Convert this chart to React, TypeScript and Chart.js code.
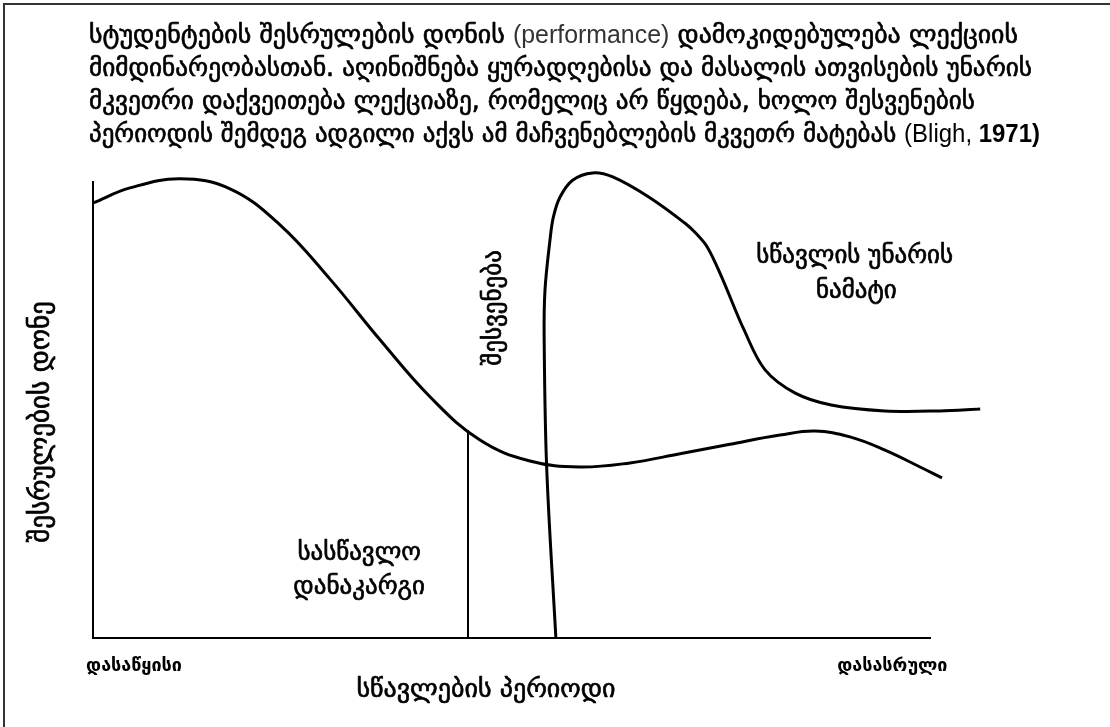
import React, { useEffect, useRef } from "react";
import { Chart, registerables } from "chart.js";

Chart.register(...registerables);

const GEO = '"DejaVu Sans", sans-serif';
const LAT = '"Liberation Sans", Arial, sans-serif';

// ---- text content ----
const titleLine1 = ["სტუდენტების შესრულების დონის ", "(performance)", " დამოკიდებულება ლექციის"];
const titleLine2 = ["მიმდინარეობასთან. აღინიშნება ყურადღებისა და მასალის ათვისების უნარის"];
const titleLine3 = ["მკვეთრი დაქვეითება ლექციაზე, რომელიც არ წყდება, ხოლო შესვენების"];
const titleLine4 = ["პერიოდის შემდეგ ადგილი აქვს ამ მაჩვენებლების მკვეთრ მატებას ", "(Bligh, ", "1971)"];

const xTickLabels = ["დასაწყისი", "დასასრული"];
const xTickValues = [4.9, 95.5];
const xAxisTitle = "სწავლების პერიოდი";
const yAxisTitle = "შესრულების დონე";

const gainLabel = ["სწავლის უნარის", "ნამატი"];
const lossLabel = ["სასწავლო", "დანაკარგი"];
const breakLabel = "შესვენება";

// ---- curve values (x: period 0..100, y: performance 0..100) ----
const attentionX = [0, 4.42, 10.39, 16.37, 22.34, 28.32, 34.29, 40.26, 46.24, 52.21, 58.18, 64.16, 70.13, 76.1, 82.08, 86.26, 90.44, 94.62, 98.81, 101.43];
const attentionY = [95.4, 98.7, 100.7, 98.5, 90.6, 78.7, 65.4, 52.9, 43.4, 38.8, 37.5, 38.4, 40.4, 42.5, 44.5, 45.4, 44.1, 41.2, 37.5, 35.1];

const recoveryX = [55.3, 54.2, 53.9, 54.0, 54.6, 55.0, 55.8, 57.3, 59.7, 62.1, 66.4, 70.7, 72.0, 73.4, 75.1, 77.8, 80.3, 83.9, 88.2, 94.6, 101.2, 106.0];
const recoveryY = [0, 37.5, 66.0, 76.3, 87.3, 92.3, 96.7, 100.4, 102.0, 101.1, 96.7, 91.0, 88.8, 85.7, 79.2, 67.5, 58.8, 53.7, 51.1, 49.8, 49.8, 50.2];

const lossLineX = [44.8, 44.8];
const lossLineY = [0, 45.6];

const toPoints = (xs: number[], ys: number[]) => xs.map((x, i) => ({ x, y: ys[i] }));

const textPlugin = {
  id: "diagramText",
  afterDraw(chart: any) {
    const ctx: CanvasRenderingContext2D = chart.ctx;
    const xs = chart.scales.x;
    const ys = chart.scales.y;
    ctx.save();

    // frame (top & left)
    ctx.strokeStyle = "#333";
    ctx.lineWidth = 2;
    ctx.beginPath();
    ctx.moveTo(4, 727);
    ctx.lineTo(4, 4);
    ctx.lineTo(1110, 4);
    ctx.stroke();

    ctx.fillStyle = "#000";
    ctx.strokeStyle = "#000";
    ctx.lineWidth = 0.7;
    ctx.lineJoin = "round";
    ctx.textBaseline = "middle";

    const heavy = (t: string, x: number, y: number) => {
      ctx.fillText(t, x, y);
      ctx.strokeText(t, x, y);
    };

    const geo = (s: number) => `${s}px ${GEO}`;
    const drawLine = (segs: { t: string; font: string; color: string; bold?: boolean }[], x0: number, yc: number, target: number) => {
      let total = 0;
      const ws = segs.map((s) => {
        ctx.font = s.font;
        const w = ctx.measureText(s.t).width;
        total += w;
        return w;
      });
      const k = target / total;
      ctx.save();
      ctx.translate(x0, yc);
      ctx.scale(k, 1);
      ctx.textAlign = "left";
      let cx = 0;
      segs.forEach((s, i) => {
        ctx.font = s.font;
        ctx.fillStyle = s.color;
        ctx.strokeStyle = s.color;
        if (s.bold) heavy(s.t, cx, 0);
        else ctx.fillText(s.t, cx, 0);
        cx += ws[i];
      });
      ctx.restore();
    };

    const tf = geo(26);
    const lf = `25px ${LAT}`;
    drawLine(
      [
        { t: titleLine1[0], font: tf, color: "#000", bold: true },
        { t: titleLine1[1], font: lf, color: "#333" },
        { t: titleLine1[2], font: tf, color: "#000", bold: true },
      ],
      89, 36, 929
    );
    drawLine([{ t: titleLine2[0], font: tf, color: "#000", bold: true }], 89, 69, 943);
    drawLine([{ t: titleLine3[0], font: tf, color: "#000", bold: true }], 89, 102, 886);
    drawLine(
      [
        { t: titleLine4[0], font: tf, color: "#000", bold: true },
        { t: titleLine4[1], font: lf, color: "#000" },
        { t: titleLine4[2], font: `bold 25px ${LAT}`, color: "#000" },
      ],
      89, 135, 951
    );

    // annotations inside plot
    ctx.textAlign = "center";
    ctx.fillStyle = "#000";
    ctx.strokeStyle = "#000";
    ctx.font = geo(25);
    heavy(gainLabel[0], xs.getPixelForValue(91.0), ys.getPixelForValue(83.6));
    heavy(gainLabel[1], xs.getPixelForValue(91.2), ys.getPixelForValue(75.9));
    heavy(lossLabel[0], xs.getPixelForValue(31.8), ys.getPixelForValue(18.6));
    heavy(lossLabel[1], xs.getPixelForValue(31.8), ys.getPixelForValue(11.0));

    ctx.save();
    ctx.translate(xs.getPixelForValue(48.0), ys.getPixelForValue(72.4));
    ctx.rotate(-Math.PI / 2);
    heavy(breakLabel, 0, 0);
    ctx.restore();

    // axis titles
    ctx.save();
    ctx.font = geo(27);
    ctx.translate(42, 422);
    ctx.rotate(-Math.PI / 2);
    heavy(yAxisTitle, 0, 0);
    ctx.restore();

    ctx.font = geo(26);
    heavy(xAxisTitle, 486, 690);

    ctx.restore();
  },
};

export default function App() {
  const ref = useRef<HTMLCanvasElement | null>(null);

  useEffect(() => {
    if (!ref.current) return;
    const lineStyle = {
      borderColor: "#000",
      borderWidth: 3,
      pointRadius: 0,
      tension: 0.4,
      fill: false,
      clip: false as const,
    };
    const chart = new Chart(ref.current, {
      type: "line",
      data: {
        datasets: [
          { label: "attention", data: toPoints(attentionX, attentionY), ...lineStyle },
          { label: "recovery", data: toPoints(recoveryX, recoveryY), ...lineStyle, tension: 0.35 },
          { label: "loss", data: toPoints(lossLineX, lossLineY), ...lineStyle, borderWidth: 2, tension: 0 },
        ],
      },
      options: {
        responsive: false,
        animation: false,
        devicePixelRatio: 1,
        layout: { padding: { left: 0, top: 182, right: 180, bottom: 0 } },
        plugins: { legend: { display: false }, tooltip: { enabled: false }, title: { display: false } },
        scales: {
          x: {
            type: "linear",
            min: 0,
            max: 100,
            grid: { display: false, drawTicks: false },
            border: { display: true, color: "#000", width: 2 },
            afterBuildTicks: (s: any) => {
              s.ticks = xTickValues.map((v) => ({ value: v }));
            },
            afterFit: (s: any) => {
              s.height = 89;
            },
            ticks: {
              autoSkip: false,
              maxRotation: 0,
              padding: 18,
              color: "#000",
              font: { family: GEO, size: 18, weight: "bold" },
              callback: (_v: any, i: number) => xTickLabels[i],
            },
          },
          y: {
            type: "linear",
            min: 0,
            max: 100,
            grid: { display: false, drawTicks: false },
            border: { display: true, color: "#000", width: 2 },
            ticks: { display: false },
            afterFit: (s: any) => {
              s.width = 93;
            },
          },
        },
      },
      plugins: [textPlugin],
    });
    return () => chart.destroy();
  }, []);

  return (
    <div style={{ position: "absolute", left: 0, top: 0, width: 1110, height: 727, background: "#fff" }}>
      <canvas ref={ref} width={1110} height={727} style={{ width: 1110, height: 727, display: "block" }} />
    </div>
  );
}
